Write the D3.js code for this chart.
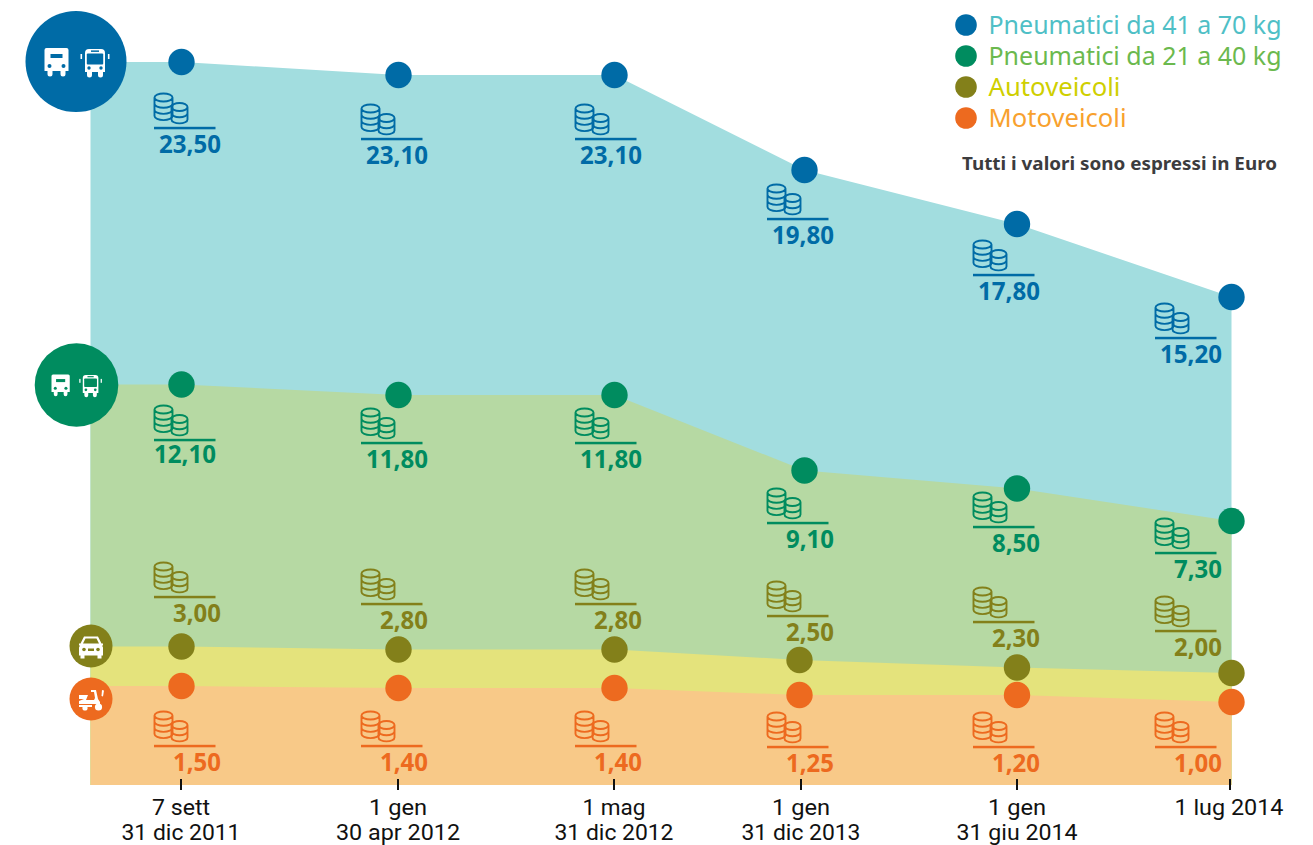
<!DOCTYPE html>
<html><head><meta charset="utf-8">
<script src="https://cdn.jsdelivr.net/npm/d3@7/dist/d3.min.js"></script>
<style>html,body{margin:0;background:#fff}svg{display:block}text{font-family:"Noto Sans",sans-serif}</style>
</head><body><svg id="c" width="1313" height="845"></svg>
<script>
const periodLine1 = ["7 sett","1 gen","1 mag","1 gen","1 gen","1 lug 2014"];
const periodLine2 = ["31 dic 2011","30 apr 2012","31 dic 2012","31 dic 2013","31 giu 2014",""];
const seriesNames = ["Pneumatici da 41 a 70 kg","Pneumatici da 21 a 40 kg","Autoveicoli","Motoveicoli"];
const tyres41to70 = [23.50,23.10,23.10,19.80,17.80,15.20];
const tyres21to40 = [12.10,11.80,11.80,9.10,8.50,7.30];
const cars = [3.00,2.80,2.80,2.50,2.30,2.00];
const motorbikes = [1.50,1.40,1.40,1.25,1.20,1.00];
const allValues = [tyres41to70,tyres21to40,cars,motorbikes];
const note = "Tutti i valori sono espressi in Euro";

// styling and layout, separate from the data
const dotCol = ["#006ba6","#008c5f","#83801a","#ed6a1f"];
const areaCol = ["#a2dddf","#b6d9a3","#e4e37c","#f8c988"];
const legendCol = ["#4fbfc6","#6bb94e","#cfcf00","#f8a12e"];
const legendDotY = [25,56,87,118], legendBase = [34,65,96,127];
const ruleX = [154,361,575,767,973,1155];
const ruleY = [[128,139,139,219,275,338],[440,443,443,523,527,553],[597,604,604,616,622,631],[746,746,746,747,747,747]];
const tickX = [181,398,614,801,1017,1230];

const svg = d3.select("#c");
// the chart's vertical axis is not proportional: a piecewise scale follows the picture
const y = d3.scaleLinear()
 .domain([0,1,1.2,1.25,1.4,1.5,2,2.3,2.5,2.8,3,7.3,8.5,9.1,11.8,12.1,15.2,17.8,19.8,23.1,23.5])
 .range([785,702,695,695,688,686,673,667.5,660,649.5,646.5,521,488.5,470.5,395,384.5,297,224,170,75,62]);
const xTop = d3.scaleLinear().domain([-1,0,1,2,3,4,5]).range([90.5,181.5,398.5,614.5,804.5,1017,1231.5]);
const xLow = d3.scaleLinear().domain([-1,0,1,2,3,4,5]).range([90.5,181.5,398.5,614.5,799.5,1017,1231.5]);
const xOf = s => s<2 ? xTop : xLow;

allValues.forEach((vals,s)=>{
  const pts=[[-1,vals[0]],...vals.map((v,i)=>[i,v])];
  svg.append("path").attr("fill",areaCol[s])
   .attr("d",d3.area().x(d=>xOf(s)(d[0])).y0(y(0)).y1(d=>y(d[1]))(pts));
});

// ticks and tick labels
periodLine1.forEach((t,i)=>{
  svg.append("line").attr("x1",tickX[i]).attr("x2",tickX[i]).attr("y1",779).attr("y2",790).attr("stroke","#111").attr("stroke-width",2);
  const lab=(txt,yy,w)=>svg.append("text").attr("x",tickX[i]+(i==5?-1:0)).attr("y",yy).attr("text-anchor","middle")
    .style("font-family","Roboto,sans-serif")
    .attr("font-size",22.5).attr("fill","#111").attr("textLength",w).attr("lengthAdjust","spacingAndGlyphs").text(txt);
  lab(t,815,[58,58,63,58,58,109][i]);
  if(periodLine2[i]) lab(periodLine2[i],839.5,[119,124,119,119,121][i]);
});

function coins(g,x,r,c){
  const stack=(cx,n,top,rx)=>{
    const ry=4,step=6.2;
    let d=`M${cx-rx},${top}a${rx},${ry} 0 1,1 ${2*rx},0a${rx},${ry} 0 1,1 ${-2*rx},0`;
    for(let k=1;k<=n;k++) d+=`M${cx-rx},${top+(k-1)*step}v${step}a${rx},${ry} 0 0,0 ${2*rx},0v${-step}`;
    g.append("path").attr("d",d).attr("fill","none").attr("stroke",c).attr("stroke-width",1.9);
  };
  stack(x+9.5,3,r-30.5,9);
  stack(x+25.5,2,r-21,8);
  g.append("rect").attr("x",x).attr("y",r-1.2).attr("width",61.5).attr("height",2.5).attr("fill",c);
}
allValues.forEach((vals,s)=>{
  const g=svg.append("g");
  vals.forEach((v,i)=>{
    coins(g,ruleX[i],ruleY[s][i],dotCol[s]);
    const str=d3.format(".2f")(v).replace(".",",");
    const first=(s==1&&i==0);   // the 12,10 label sits further left and higher in the picture
    g.append("text").attr("x",ruleX[i]+(first?62:67)).attr("y",ruleY[s][i]+(first?23:24.5)).attr("text-anchor","end")
     .attr("font-size",25.5).attr("font-weight",700).attr("fill",dotCol[s])
     .attr("textLength",str.length==5?62:48).attr("lengthAdjust","spacingAndGlyphs").text(str);
  });
});
// dots
allValues.forEach((vals,s)=>{
  svg.append("g").selectAll("circle").data(vals).join("circle")
   .attr("cx",(d,i)=>xOf(s)(i)).attr("cy",d=>y(d)).attr("r",13.2).attr("fill",dotCol[s]);
});

// vehicle badges
function truck(g,x,yy,k,c){
  const t=g.append("g").attr("transform",`translate(${x},${yy}) scale(${k})`);
  t.append("path").attr("fill","#fff").attr("d","M2,0h20a2,2 0 0 1 2,2v21h-3v3a1.5,1.5 0 0 1-5,0v-3h-8v3a1.5,1.5 0 0 1-5,0v-3h-3v-21a2,2 0 0 1 2,-2z");
  t.append("rect").attr("x",6).attr("y",6).attr("width",12).attr("height",4).attr("fill",c);
  t.append("circle").attr("cx",5).attr("cy",18).attr("r",2).attr("fill",c);
  t.append("circle").attr("cx",19).attr("cy",18).attr("r",2).attr("fill",c);
}
function bus(g,x,yy,k,c){
  const t=g.append("g").attr("transform",`translate(${x},${yy}) scale(${k})`);
  t.append("path").attr("fill","#fff").attr("d","M5,0h12a4,4 0 0 1 4,4v19h-2v3a1.5,1.5 0 0 1-5,0v-3h-6v3a1.5,1.5 0 0 1-5,0v-3h-2v-19a4,4 0 0 1 4,-4z");
  t.append("rect").attr("x",2.8).attr("y",4.5).attr("width",16.4).attr("height",11).attr("rx",1).attr("fill",c);
  t.append("rect").attr("x",7).attr("y",1.4).attr("width",8).attr("height",1.5).attr("fill",c);
  t.append("circle").attr("cx",5).attr("cy",19).attr("r",1.7).attr("fill",c);
  t.append("circle").attr("cx",17).attr("cy",19).attr("r",1.7).attr("fill",c);
  t.append("rect").attr("x",-3.5).attr("y",5).attr("width",1.6).attr("height",5).attr("fill","#fff");
  t.append("rect").attr("x",23.9).attr("y",5).attr("width",1.6).attr("height",5).attr("fill","#fff");
}
svg.append("circle").attr("cx",76).attr("cy",61.5).attr("r",50.5).attr("fill",dotCol[0]);
svg.append("circle").attr("cx",76.5).attr("cy",385).attr("r",41.8).attr("fill",dotCol[1]);
svg.append("circle").attr("cx",91).attr("cy",646).attr("r",21.5).attr("fill",dotCol[2]);
svg.append("circle").attr("cx",91).attr("cy",699).attr("r",21.5).attr("fill",dotCol[3]);
truck(svg,44.5,48,1,dotCol[0]); bus(svg,84,49,1,dotCol[0]);
truck(svg,51.5,374.5,.76,dotCol[1]); bus(svg,82,375,.78,dotCol[1]);
// car
const car=svg.append("g").attr("transform","translate(79,635.5)");
car.append("path").attr("fill","#fff").attr("d","M5,1h14l3.5,7h1.5v2h-1l1,2v8h-1.5v3h-4v-3h-13v3h-4v-3h-1.5v-8l1,-2h-1v-2h1.5z");
car.append("path").attr("fill",dotCol[2]).attr("d","M6.5,3h11l2.5,5h-16z");
car.append("circle").attr("cx",5).attr("cy",14).attr("r",1.8).attr("fill",dotCol[2]);
car.append("circle").attr("cx",19).attr("cy",14).attr("r",1.8).attr("fill",dotCol[2]);
car.append("rect").attr("x",9).attr("y",13).attr("width",6).attr("height",2.5).attr("fill",dotCol[2]);
// scooter
const sc=svg.append("g").attr("transform","translate(77,688)");
sc.append("path").attr("fill","#fff").attr("d","M2,7h9l-2,5h8l1,-2l-1,-6h-3v-2h5l2,9l2,3v2h-21v-3l5,-2h-5z");
sc.append("rect").attr("x",2).attr("y",17).attr("width",13).attr("height",2).attr("fill","#fff");
sc.append("circle").attr("cx",8).attr("cy",20).attr("r",2.6).attr("fill","#fff");
sc.append("circle").attr("cx",21.5).attr("cy",19).attr("r",3.6).attr("fill","#fff");
sc.append("path").attr("fill","#fff").attr("d","M25,2l2,0.5l-1,6l-1.5,-0.5z");

// legend
seriesNames.forEach((n,s)=>{
  svg.append("circle").attr("cx",966).attr("cy",legendDotY[s]).attr("r",10.8).attr("fill",dotCol[s]);
  const t=svg.append("text").attr("x",988.5).attr("y",legendBase[s]).attr("font-size",25).attr("fill",legendCol[s]).text(n);
  t.attr("textLength",[293,293,132,138][s]).attr("lengthAdjust","spacingAndGlyphs");
});
svg.append("text").attr("x",962).attr("y",170).attr("font-size",18).attr("font-weight",700).attr("fill","#3c3c3e")
 .attr("textLength",315).attr("lengthAdjust","spacingAndGlyphs").text(note);
</script></body></html>
